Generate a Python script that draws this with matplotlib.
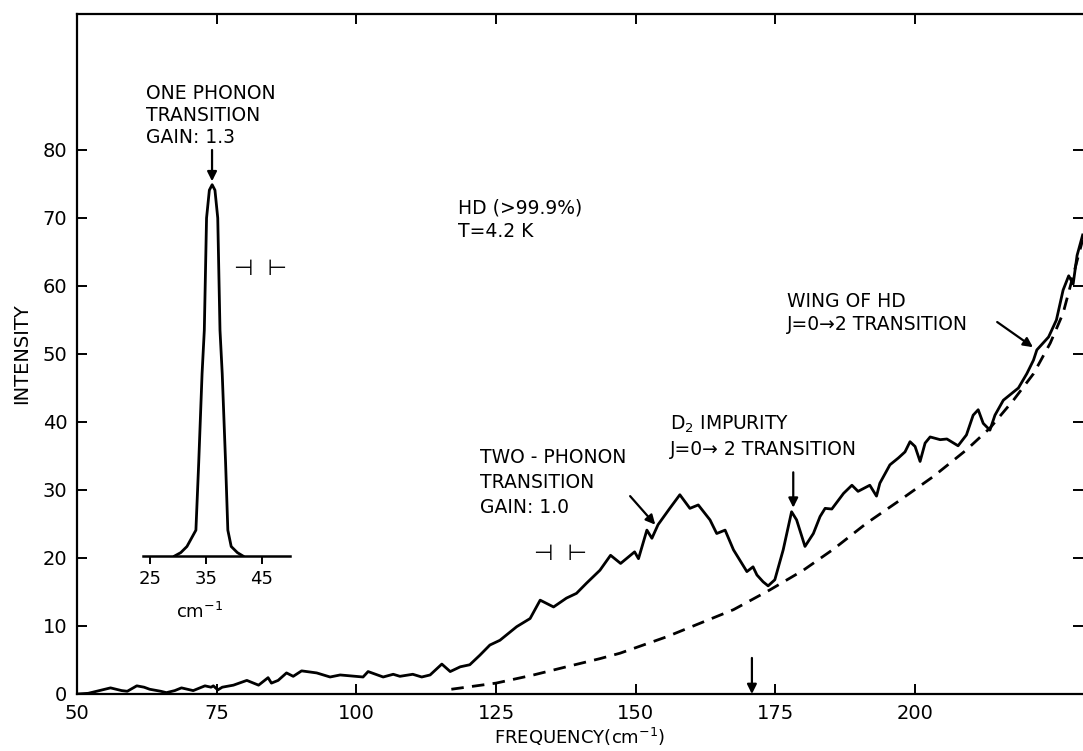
import matplotlib.pyplot as plt
import numpy as np

plt.rcParams['font.family'] = 'DejaVu Sans'
plt.rcParams['mathtext.default'] = 'regular'

# main spectrum (cm-1, intensity)
freq = [50, 52, 54, 56, 58, 59, 60.7, 62, 63, 65, 66, 67.5, 68.7, 70.8, 72.9, 74.0,
        74.4, 75.2, 76, 78, 80.4, 82.5, 84.2, 84.8, 86, 87.5, 88.7, 90.2, 92.9, 95.3,
        97.1, 101.2, 102.1, 104.8, 106.6, 107.8, 110.1, 111.7, 113.2, 115.3, 116.8,
        118.6, 120.3, 122.1, 123.9, 125.7, 128.7, 131.1, 132.9, 135.3, 137.6, 139.4,
        141.2, 143.6, 145.5, 147.3, 149.8, 150.5, 152.0, 152.9, 154.0, 156.1, 157.9,
        159.7, 161.2, 163.3, 164.5, 166.0, 167.5, 169.9, 171.0, 171.7, 172.8, 173.7,
        174.9, 176.4, 177.9, 178.8, 180.3, 181.8, 183.0, 183.9, 185.1, 187.2, 188.7,
        189.8, 191.9, 193.1, 193.7, 195.5, 197.0, 198.2, 199.1, 200.0, 200.9, 201.8,
        202.7, 204.5, 205.7, 207.7, 209.2, 210.4, 211.3, 212.2, 213.4, 214.3, 215.8,
        217.3, 218.5, 220.0, 221.2, 221.8, 223.9, 225.3, 226.5, 227.5, 228.3, 229.0,
        230.0]
intensity = [0.0, 0.1, 0.5, 0.9, 0.5, 0.4, 1.2, 1.0, 0.7, 0.4, 0.2, 0.5, 0.9, 0.5, 1.2,
             1.0, 1.2, 0.6, 1.0, 1.3, 2.0, 1.3, 2.4, 1.6, 2.0, 3.1, 2.6, 3.4, 3.1, 2.5,
             2.8, 2.5, 3.3, 2.5, 2.9, 2.6, 2.9, 2.5, 2.8, 4.4, 3.3, 4.0, 4.3, 5.7, 7.2,
             7.9, 9.9, 11.1, 13.8, 12.8, 14.1, 14.8, 16.3, 18.2, 20.4, 19.2, 20.9, 19.9,
             24.1, 22.9, 24.9, 27.3, 29.3, 27.3, 27.8, 25.6, 23.6, 24.1, 21.2, 18.0,
             18.7, 17.5, 16.5, 15.9, 16.8, 21.2, 26.8, 25.6, 21.7, 23.6, 26.1, 27.3,
             27.2, 29.5, 30.7, 29.8, 30.7, 29.1, 31.0, 33.7, 34.7, 35.6, 37.1, 36.4,
             34.2, 36.9, 37.8, 37.4, 37.5, 36.5, 38.1, 41.0, 41.8, 39.8, 38.8, 41.0,
             43.2, 44.2, 45.0, 47.1, 49.1, 50.6, 52.5, 55.0, 59.4, 61.5, 60.3, 64.5,
             67.5]

# dashed background (wing of the HD line)
base_freq = [117.0, 125.0, 131.7, 137.6, 143.6, 147.2, 155.5, 167.5, 174.0, 180.0,
             185.4, 191.3, 197.3, 203.3, 209.2, 213.4, 217.6, 221.2, 224.2, 226.5, 230.0]
base_intensity = [0.7, 1.6, 2.8, 4.0, 5.2, 6.0, 8.4, 12.4, 15.3, 18.2, 21.3, 25.1,
                  28.5, 32.0, 35.9, 39.1, 43.2, 47.1, 51.6, 56.0, 66.8]

# inset: one phonon peak
inset_freq = [29.4, 30.5, 31.6, 33.2, 33.7, 34.3, 34.7, 35.1, 35.6, 36.1, 36.6, 37.1,
              37.5, 37.9, 38.5, 38.9, 39.5, 40.6, 41.6]
inset_intensity = [0.0, 0.5, 1.4, 3.8, 13.7, 26.8, 33.2, 49.7, 53.8, 54.6, 53.8, 49.7,
                   33.2, 26.8, 13.7, 3.8, 1.4, 0.5, 0.0]

x_ticks = [50, 75, 100, 125, 150, 175, 200]
y_ticks = [0, 10, 20, 30, 40, 50, 60, 70, 80]
inset_ticks = [25, 35, 45]

fig = plt.figure(figsize=(10.83, 7.51), dpi=100)
ax = fig.add_axes([0.0711, 0.0759, 0.9289, 0.9055])

ax.plot(freq, intensity, color='k', lw=2.0, solid_joinstyle='round')
ax.plot(base_freq, base_intensity, color='k', lw=2.0, dashes=(4.5, 3))

ax.set_xlim(50, 230.06)
ax.set_ylim(0, 100)
ax.set_xticks(x_ticks)
ax.set_yticks(y_ticks)
ax.tick_params(direction='in', length=7.5, width=1.4, top=True, right=True,
               labelsize=14, pad=7)
ax.spines['right'].set_visible(False)
for s in ['left', 'bottom', 'top']:
    ax.spines[s].set_linewidth(1.6)
ax.set_xlabel('FREQUENCY(cm$^{-1}$)', fontsize=13, labelpad=2)
ax.set_ylabel('INTENSITY', fontsize=14, labelpad=8)

txt = dict(fontsize=13.5, color='k')
arr = dict(arrowstyle='-|>', color='k', lw=1.6, mutation_scale=14, shrinkA=0, shrinkB=0)

ax.text(62.35, 85.1, 'ONE PHONON\nTRANSITION\nGAIN: 1.3', ha='left', va='center',
        linespacing=1.2, **txt)
ax.annotate('', xy=(74.17, 75.4), xytext=(74.17, 80.0), arrowprops=arr)
ax.text(82.8, 62.5, '⊣  ⊢', ha='center', va='center', fontsize=16)

ax.text(118.2, 69.7, 'HD (>99.9%)\nT=4.2 K', ha='left', va='center',
        linespacing=1.28, **txt)

ax.text(122.1, 31.1, 'TWO - PHONON\nTRANSITION\nGAIN: 1.0', ha='left', va='center',
        linespacing=1.37, **txt)
ax.annotate('', xy=(153.5, 24.9), xytext=(149.0, 29.1), arrowprops=arr)
ax.text(136.5, 20.6, '⊣  ⊢', ha='center', va='center', fontsize=16)

ax.text(156.1, 37.9, 'D$_2$ IMPURITY\nJ=0→ 2 TRANSITION', ha='left', va='center',
        linespacing=1.35, **txt)
ax.annotate('', xy=(178.2, 27.4), xytext=(178.2, 32.6), arrowprops=arr)

ax.text(177.1, 56.0, 'WING OF HD\nJ=0→2 TRANSITION', ha='left', va='center',
        linespacing=1.25, **txt)
ax.annotate('', xy=(221.1, 51.0), xytext=(214.7, 54.7), arrowprops=arr)

ax.annotate('', xy=(170.8, 0), xytext=(170.8, 5.3), arrowprops=arr)

# inset
ins = fig.add_axes([142.7 / 1083, (751 - 556) / 751, 147.3 / 1083, 56 * 6.8 / 751])
ins.patch.set_alpha(0)
ins.plot(inset_freq, inset_intensity, color='k', lw=2.0, solid_joinstyle='round')
ins.set_xlim(23.7, 50)
ins.set_ylim(0, 56)
for s in ['left', 'right', 'top']:
    ins.spines[s].set_visible(False)
ins.spines['bottom'].set_linewidth(1.8)
ins.set_xticks(inset_ticks)
ins.set_yticks([])
ins.tick_params(axis='x', direction='out', length=6, width=1.4, labelsize=13, pad=4)
ins.set_xlabel('cm$^{-1}$', fontsize=13)
ins.xaxis.set_label_coords(0.389, -0.12)

fig.savefig('out.png', dpi=100)
